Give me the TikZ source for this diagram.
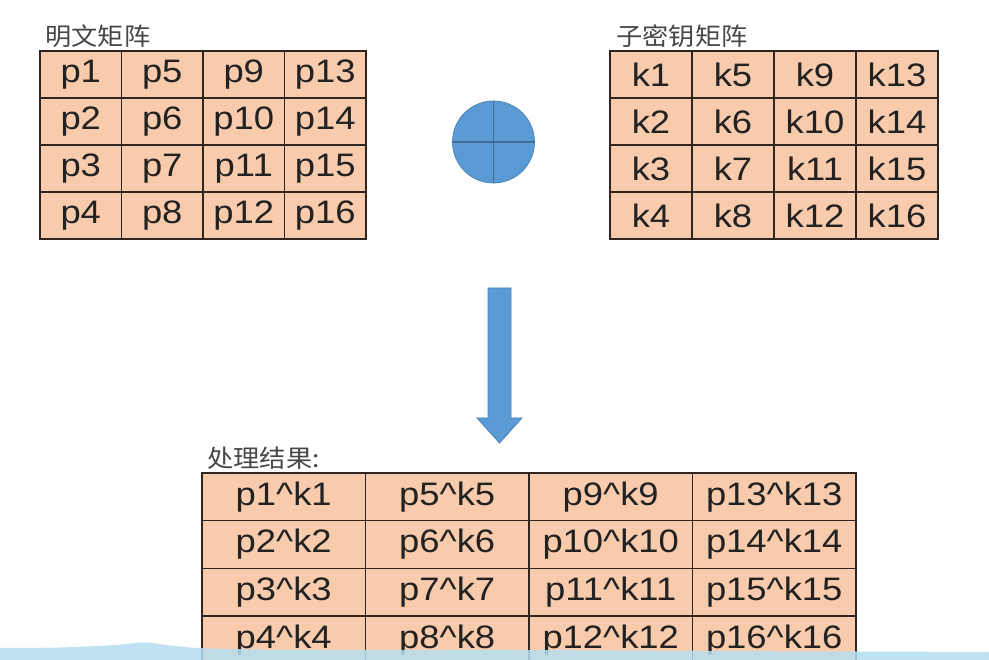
\documentclass[tikz,border=0pt]{standalone}
\usepackage{fontspec}
\setmainfont{Liberation Sans}[FakeStretch=1.12]
\newfontfamily\cjkfont{Noto Sans CJK SC}[FakeStretch=1.07]
\usetikzlibrary{positioning}

\definecolor{cellfill}{HTML}{F8CBAD}
\definecolor{cellline}{HTML}{2E2520}
\definecolor{celltext}{HTML}{222222}
\definecolor{xorblue}{HTML}{5B9BD5}
\definecolor{stripblue}{RGB}{180,222,240}

\begin{document}
\begin{tikzpicture}[
        x=1pt, y=-1pt,
        cell/.style={draw=cellline, fill=cellfill, line width=1.3pt, minimum width=81.5pt, minimum height=47pt, inner sep=0pt, text=celltext, font=\fontsize{32.5}{32}\selectfont},
        widecell/.style={cell, minimum width=163.5pt, minimum height=47.7pt},
        caption/.style={font=\cjkfont\fontsize{24.5}{26}\selectfont, text=black!72, inner sep=0pt},
        xorsign/.style={circle, fill=xorblue, draw=xorblue!85!black, line width=0.8pt, minimum size=82pt, inner sep=0pt},
        crossline/.style={draw=xorblue!70!black, line width=1.4pt},
        blockarrow/.style={fill=xorblue, draw=xorblue!85!black, line width=0.8pt}
    ]
        \clip (0,0) rectangle (989,660);
        \fill[white] (0,0) rectangle (989,660);

        % plaintext and round key
        \foreach \c in {0,...,3}
            \foreach \r in {0,...,3} {
                \pgfmathtruncatemacro\n{4*\c+\r+1}
                \node[cell] (p\n) at ({40+81.5*(\c+0.5)},{51+47*(\r+0.5)}) {p\n};
                \node[cell, minimum width=82pt] (k\n) at ({610+82*(\c+0.5)},{51+47*(\r+0.5)}) {k\n};
                \node[widecell] (r\n) at ({202+163.5*(\c+0.5)},{473+47.7*(\r+0.5)}) {p\n\textasciicircum k\n};
            }

        \node[caption, above right=3pt and 6pt of p1.north west] (plaintitle) {明文矩阵};
        \node[caption, above right=3pt and 7pt of k1.north west] (keytitle) {子密钥矩阵};
        \node[caption, above right=3pt and 6pt of r1.north west] (resulttitle) {处理结果:};

        \node[xorsign] (xor) at (493.5,142) {};
        \draw[crossline] (xor.north) -- (xor.south);
        \draw[crossline] (xor.west) -- (xor.east);

        \draw[blockarrow] (488,288) -- (511,288) -- (511,418) -- (522,418) -- (499.5,443) -- (477,418) -- (488,418) -- cycle;

        % overlay strip at the bottom
        \fill[stripblue, fill opacity=0.85] plot[smooth] coordinates {(0,648) (60,647.5) (115,645) (145,642.5) (170,645.5) (210,648.5) (320,650) (520,650) (700,651) (860,651.5) (989,652)} -- (989,660) -- (0,660) -- cycle;
    \end{tikzpicture}
\end{document}
